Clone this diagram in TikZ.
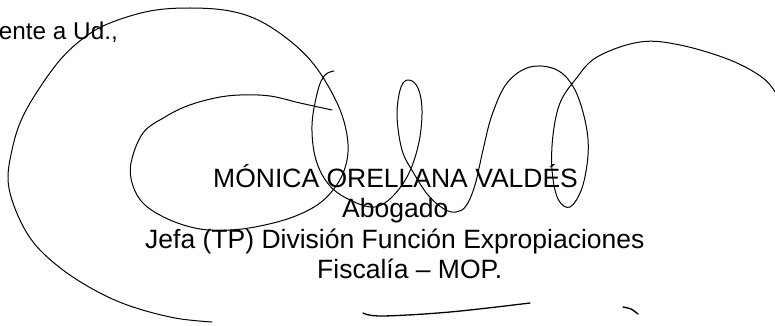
\documentclass[tikz,border=0pt]{standalone}
\usepackage{fontspec}
\setmainfont{Liberation Sans}
\tikzset{
  firma/.style={line width=1pt, line cap=round, line join=round},
  cargo/.style={anchor=base west, inner sep=0pt, font=\fontsize{26.5}{30}\selectfont},
}
\begin{document}
\begin{tikzpicture}[x=1pt, y=-1pt]
\useasboundingbox (0,0) rectangle (775,326);
% texto
\node[anchor=base east, inner sep=0pt, font=\fontsize{24.3}{28}\selectfont] (saludo) at (118,40) {ente a Ud.,};
\node[cargo] (nombre) at (213,187) {MÓNICA ORELLANA VALDÉS};
\node[cargo] (titulo) at (342,217) {Abogado};
\node[cargo] (jefa) at (145,248) {Jefa (TP) División Función Expropiaciones};
\node[cargo] (fiscalia) at (317,278) {Fiscalía -- MOP.};
% firma
\draw[firma] plot[smooth, tension=0.6] coordinates {(212,322) (175,318) (133,307) (100,293) (67,273) (40,250) (24,228) (12,200) (8,177) (12,150) (20,123) (35,95) (60,60) (85,37) (110,23) (150,11) (190,8) (230,11) (262,22) (295,45) (318,70) (338,105) (347,135) (347,160) (338,183) (320,203) (293,217) (260,226) (230,230) (200,229) (170,220) (145,205) (133,186) (131,163) (143,133) (165,117) (187,106) (215,98) (240,95) (270,96) (300,103) (332,110)};
\draw[firma] plot[smooth, tension=0.6] coordinates {(334,71) (325,75) (318,90) (312,125) (316,160) (330,186) (352,201) (375,207) (393,196) (409,173) (419,142) (422,110) (418,88) (409,80) (401,87) (397,115) (402,150) (413,172) (428,195) (444,209) (456,212) (466,206) (475,185) (483,150) (492,115) (507,83) (530,67) (557,70) (575,90) (586,125) (588,155) (582,188) (570,207) (558,199) (552,170) (553,135) (560,103) (575,80) (597,57) (640,42) (680,45) (730,60) (763,78) (777,95)};
\draw[firma, line width=1.3pt] plot[smooth, tension=0.6] coordinates {(363,313) (382,316) (450,312) (530,303)};
\draw[firma, line width=1.4pt] plot[smooth] coordinates {(623,307) (631,309) (638,314)};
\end{tikzpicture}
\end{document}
